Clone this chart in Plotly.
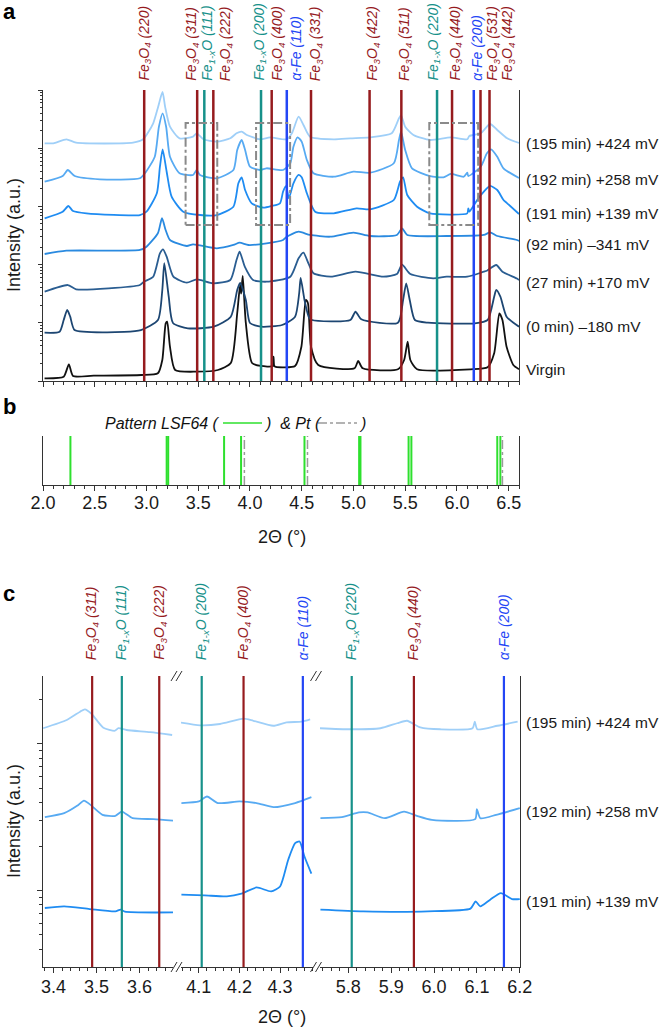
import numpy as np
import plotly.graph_objects as go

W, H = 667, 1033
def px(x): return x / W
def py(y): return 1 - y / H

FONT = "Liberation Sans, Arial, sans-serif"

# ---------------- DATA ----------------
# reference reflections (2-theta, degrees)
fe3o4_pos = [2.978, 3.490, 3.646, 4.210, 4.590, 5.156, 5.463, 5.953, 6.228, 6.315]
fe3o4_hkl = ["(220)", "(311)", "(222)", "(400)", "(331)", "(422)", "(511)", "(440)", "(531)", "(442)"]
feo_pos = [3.559, 4.107, 5.808]
feo_hkl = ["(111)", "(200)", "(220)"]
fe_pos = [4.356, 6.163]
fe_hkl = ["(110)", "(200)"]

# panel b reference patterns
lsf64_pos = [2.265, 3.195, 3.21, 3.75, 3.914, 4.527, 5.055, 5.068, 5.533, 5.56, 6.39, 6.42]
pt_pos = [3.946, 4.556, 6.44]

# panel a curves: 2-theta and log10(intensity, a.u.)
virgin_x = [2.015, 2.20, 2.25, 2.29, 2.49, 2.95, 3.11, 3.153, 3.186, 3.20, 3.227, 3.277, 3.48, 3.69, 3.815,
            3.877, 3.905, 3.915, 3.93, 3.96, 4.02, 4.105, 4.222, 4.228, 4.235, 4.25, 4.436, 4.497, 4.54, 4.56,
            4.59, 4.66, 5.01, 5.046, 5.09, 5.43, 5.49, 5.524, 5.55, 5.615, 6.13, 6.297, 6.36, 6.41, 6.44, 6.48,
            6.545, 6.6]
virgin_l = [0.046, 0.074, 0.287, 0.086, 0.091, 0.103, 0.132, 0.361, 0.991, 1.019, 0.589, 0.189, 0.160, 0.189, 0.309,
            1.168, 1.65, 1.50, 1.804, 0.997, 0.309, 0.258, 0.258, 0.418, 0.258, 0.241, 0.258, 0.589, 1.392, 1.340,
            0.589, 0.275, 0.218, 0.344, 0.218, 0.201, 0.361, 0.675, 0.361, 0.201, 0.201, 0.235, 0.476, 1.163, 1.048, 0.589,
            0.275, 0.201]

m0_x = [2.015, 2.16, 2.20, 2.234, 2.263, 2.305, 2.615, 2.946, 3.111, 3.153, 3.172, 3.215, 3.256, 3.40, 3.65, 3.815,
        3.877, 3.905, 3.96, 4.0, 4.105, 4.31, 4.436, 4.476, 4.49, 4.527, 4.567, 4.60, 4.97, 5.02, 5.076, 5.43, 5.48,
        5.51, 5.544, 5.594, 5.72, 6.173, 6.297, 6.36, 6.38, 6.42, 6.48, 6.6]
m0_l = [0.830, 0.847, 1.048, 1.220, 1.105, 0.876, 0.837, 0.876, 1.048, 1.564, 2.027, 1.448, 0.997, 0.906, 0.933, 1.105,
        1.564, 1.684, 1.392, 0.997, 0.933, 0.962, 1.105, 1.512, 1.770, 1.392, 1.105, 1.048, 1.048, 1.191, 1.060, 1.002, 1.392,
        1.679, 1.392, 1.048, 1.002, 0.991, 1.048, 1.448, 1.564, 1.448, 1.105, 0.933]

m27_x = [2.016, 2.24, 2.32, 2.936, 2.975, 3.065, 3.13, 3.16, 3.195, 3.26, 3.39, 3.485, 3.646, 3.81, 3.87, 3.90,
         3.95, 4.03, 4.16, 4.39, 4.47, 4.517, 4.565, 4.614, 4.78, 5.02, 5.29, 5.42, 5.47, 5.55, 5.77, 5.9, 6.1,
         6.26, 6.29, 6.38, 6.44, 6.58, 6.6]
m27_l = [1.534, 1.649, 1.576, 1.649, 1.706, 1.792, 2.194, 2.263, 2.136, 1.792, 1.689, 1.747, 1.679, 1.735, 2.079, 2.222,
         1.964, 1.735, 1.706, 1.792, 2.108, 2.204, 2.022, 1.851, 1.792, 1.878, 1.792, 1.838, 1.998, 1.838, 1.765, 1.792, 1.792,
         1.878, 1.895, 1.993, 1.878, 1.761, 1.735]

m92_x = [2.016, 2.226, 2.936, 3.0, 3.11, 3.15, 3.185, 3.227, 3.39, 3.45, 3.68, 3.84, 3.90, 3.985, 4.16, 4.32, 4.356,
         4.47, 4.58, 4.775, 5.0, 5.16, 5.42, 5.47, 5.52, 5.9, 6.26, 6.32, 6.39, 6.58, 6.6]
m92_l = [2.182, 2.239, 2.251, 2.308, 2.538, 2.796, 2.595, 2.423, 2.320, 2.349, 2.280, 2.337, 2.376, 2.337, 2.366, 2.423, 2.479,
         2.565, 2.509, 2.479, 2.548, 2.491, 2.509, 2.624, 2.509, 2.491, 2.509, 2.555, 2.491, 2.423, 2.405]

m191_x = [2.016, 2.19, 2.245, 2.29, 2.42, 2.936, 3.0, 3.10, 3.13, 3.156, 3.195, 3.243, 3.355, 3.517, 3.68, 3.84, 3.888,
          3.92, 3.953, 4.017, 4.13, 4.21, 4.29, 4.32, 4.35, 4.376, 4.42, 4.47, 4.50, 4.55, 4.63, 4.81, 5.03, 5.16, 5.39,
          5.45, 5.48, 5.52, 5.615, 5.74, 6.10, 6.11, 6.12, 6.196, 6.26, 6.32, 6.39, 6.45, 6.486, 6.6]
m191_l = [2.796, 2.909, 3.007, 2.921, 2.881, 2.852, 2.909, 3.225, 3.682, 3.981, 3.596, 3.167, 2.909, 2.852, 2.852, 2.995, 3.397,
          3.500, 3.282, 3.053, 2.978, 3.007, 3.053, 3.253, 3.351, 3.139, 3.397, 3.540, 3.500, 3.225, 2.909, 2.881, 2.967, 2.950, 3.110,
          3.424, 3.500, 3.196, 2.995, 2.881, 2.881, 2.967, 2.909, 3.110, 3.253, 3.351, 3.282, 3.110, 3.053, 2.869]

m192_x = [2.016, 2.19, 2.24, 2.307, 2.55, 2.936, 2.985, 3.08, 3.12, 3.156, 3.19, 3.227, 3.32, 3.45, 3.485, 3.517, 3.68,
          3.84, 3.877, 3.92, 3.953, 4.0, 4.098, 4.16, 4.32, 4.39, 4.42, 4.46, 4.50, 4.55, 4.614, 4.81, 5.0, 5.16, 5.39,
          5.44, 5.46, 5.50, 5.566, 5.74, 5.87, 5.94, 6.066, 6.10, 6.11, 6.23, 6.29, 6.33, 6.39, 6.45, 6.6]
m192_l = [3.424, 3.522, 3.625, 3.522, 3.466, 3.483, 3.569, 3.854, 4.369, 4.600, 4.369, 3.854, 3.569, 3.540, 3.625, 3.540, 3.483,
          3.625, 3.969, 4.141, 3.969, 3.682, 3.625, 3.655, 3.625, 3.741, 4.026, 4.187, 4.112, 3.797, 3.569, 3.510, 3.596, 3.579, 3.741,
          4.141, 4.283, 3.969, 3.655, 3.522, 3.500, 3.557, 3.510, 3.579, 3.522, 3.682, 3.912, 3.981, 3.854, 3.655, 3.488]

m195_x = [2.016, 2.10, 2.226, 2.32, 2.87, 2.968, 3.065, 3.113, 3.155, 3.18, 3.227, 3.32, 3.45, 3.485, 3.55, 3.68, 3.81,
          3.87, 3.92, 3.97, 4.098, 4.195, 4.356, 4.405, 4.47, 4.517, 4.58, 4.81, 4.97, 5.16, 5.37, 5.44, 5.46, 5.50,
          5.58, 5.74, 5.94, 6.10, 6.12, 6.23, 6.32, 6.39, 6.486, 6.6]
m195_l = [4.084, 4.084, 4.153, 4.095, 4.095, 4.153, 4.428, 4.713, 4.966, 4.713, 4.369, 4.170, 4.198, 4.256, 4.153, 4.112, 4.170,
          4.256, 4.284, 4.227, 4.153, 4.187, 4.153, 4.256, 4.541, 4.399, 4.198, 4.153, 4.170, 4.187, 4.256, 4.514, 4.570, 4.369,
          4.227, 4.141, 4.187, 4.153, 4.210, 4.256, 4.416, 4.313, 4.170, 4.089]

labels_a = ["Virgin", "(0 min) \u2013180 mV", "(27 min) +170 mV", "(92 min) \u2013341 mV",
            "(191 min) +139 mV", "(192 min) +258 mV", "(195 min) +424 mV"]
label_a_l = [0.19, 0.94, 1.70, 2.34, 2.88, 3.47, 4.08]

# panel c zoomed curves, three 2-theta windows each: (x, log10 I)
c195 = [([3.376, 3.431, 3.462, 3.473, 3.489, 3.516, 3.543, 3.551, 3.57, 3.625, 3.676],
         [1.107, 1.163, 1.22, 1.236, 1.204, 1.111, 1.09, 1.107, 1.095, 1.08, 1.061]),
        ([4.056, 4.103, 4.152, 4.21, 4.234, 4.283, 4.316, 4.353, 4.374],
         [1.145, 1.127, 1.136, 1.172, 1.158, 1.124, 1.147, 1.152, 1.168]),
        ([5.734, 5.804, 5.875, 5.914, 5.937, 5.968, 6.015, 6.09, 6.095, 6.101, 6.148, 6.195],
         [1.107, 1.10, 1.107, 1.141, 1.158, 1.113, 1.10, 1.107, 1.152, 1.10, 1.124, 1.152])]
c192 = [([3.380, 3.425, 3.455, 3.471, 3.484, 3.514, 3.544, 3.559, 3.584, 3.633, 3.678],
         [0.501, 0.528, 0.578, 0.614, 0.59, 0.517, 0.51, 0.539, 0.494, 0.488, 0.478]),
        ([4.057, 4.10, 4.12, 4.147, 4.20, 4.242, 4.284, 4.337, 4.377],
         [0.597, 0.608, 0.642, 0.597, 0.608, 0.597, 0.569, 0.597, 0.637]),
        ([5.735, 5.785, 5.825, 5.845, 5.885, 5.93, 5.96, 5.995, 6.096, 6.10, 6.108, 6.145, 6.20],
         [0.494, 0.501, 0.533, 0.533, 0.494, 0.539, 0.51, 0.483, 0.488, 0.556, 0.494, 0.517, 0.563])]
c191 = [([3.38, 3.425, 3.484, 3.544, 3.556, 3.566, 3.678],
         [-0.118, -0.107, -0.125, -0.141, -0.129, -0.143, -0.148]),
        ([4.057, 4.114, 4.169, 4.205, 4.242, 4.278, 4.30, 4.32, 4.337, 4.348, 4.36, 4.377],
         [-0.027, -0.032, -0.039, -0.02, 0.022, -0.005, 0.029, 0.211, 0.324, 0.335, 0.233, 0.116]),
        ([5.735, 5.835, 5.985, 6.085, 6.097, 6.108, 6.131, 6.156, 6.182, 6.20],
         [-0.129, -0.141, -0.141, -0.122, -0.073, -0.107, -0.061, -0.016, -0.057, -0.057])]
labels_c = ["(191 min) +139 mV", "(192 min) +258 mV", "(195 min) +424 mV"]
label_c_l = [-0.073, 0.539, 1.143]

# ---------------- STYLE ----------------
C_FE3O4 = "#961b1e"
C_FEO = "#17918a"
C_FE = "#2346f5"
curve_cols = ["#111111", "#1d4672", "#2a5d91", "#2a8ae0", "#1f8cf2", "#57aaf2", "#9fcff8"]
AX = "#333333"
TXT = "#1a1a1a"

fig = go.Figure()

# panel a curves
curves_a = [(virgin_x, virgin_l), (m0_x, m0_l), (m27_x, m27_l), (m92_x, m92_l),
            (m191_x, m191_l), (m192_x, m192_l), (m195_x, m195_l)]
for (xs, ls), col in zip(curves_a, curve_cols):
    fig.add_trace(go.Scatter(x=xs, y=ls, mode="lines", xaxis="x", yaxis="y",
                             line=dict(color=col, width=1.8, shape="spline", smoothing=0.6),
                             showlegend=False, hoverinfo="skip"))

# panel c curves
c_cols = [curve_cols[4], curve_cols[5], curve_cols[6]]
seg_axes = [("x5", "y3"), ("x6", "y4"), ("x7", "y5")]
for data, col in zip([c191, c192, c195], c_cols):
    for (xs, ls), (xa, ya) in zip(data, seg_axes):
        fig.add_trace(go.Scatter(x=xs, y=ls, mode="lines", xaxis=xa, yaxis=ya,
                                 line=dict(color=col, width=1.8, shape="spline", smoothing=0.6),
                                 showlegend=False, hoverinfo="skip"))

shapes = []
annotations = []

refs = ([(p, h, "fe3o4") for p, h in zip(fe3o4_pos, fe3o4_hkl)] +
        [(p, h, "feo") for p, h in zip(feo_pos, feo_hkl)] +
        [(p, h, "fe") for p, h in zip(fe_pos, fe_hkl)])
refs.sort(key=lambda r: r[0])
col_of = {"fe3o4": C_FE3O4, "feo": C_FEO, "fe": C_FE}
def lab(ph, hkl):
    if ph == "fe3o4":
        return f"<i>Fe<sub>3</sub>O<sub>4</sub> {hkl}</i>"
    if ph == "feo":
        return f"<i>Fe<sub>1-x</sub>O {hkl}</i>"
    return f"<i>\u03b1-Fe {hkl}</i>"

label_px_a = [145, 191.7, 208.3, 226.7, 260, 278.3, 296, 316.7, 373.3, 405, 434, 456, 476.7, 493.3, 508.3]
for (p, hkl, ph), lx in zip(refs, label_px_a):
    shapes.append(dict(type="line", xref="x", yref="y domain", x0=p, x1=p, y0=0, y1=1,
                       line=dict(color=col_of[ph], width=2.5), layer="above"))
    annotations.append(dict(text=lab(ph, hkl), xref="paper", yref="paper", x=px(lx), y=py(82),
                            xanchor="center", yanchor="bottom", textangle=-90, showarrow=False, borderpad=0,
                            font=dict(family=FONT, size=14, color=col_of[ph])))

# gray dash-dot boxes in panel a
for x0, x1 in [(3.378, 3.684), (4.059, 4.388), (5.733, 6.205)]:
    shapes.append(dict(type="rect", xref="x", yref="y", x0=x0, x1=x1, y0=2.68, y1=4.433,
                       line=dict(color="#8a8a8a", width=2, dash="dashdot"), layer="above"))

for t, l in zip(labels_a, label_a_l):
    annotations.append(dict(text=t, xref="paper", yref="y", x=px(524), y=l, xanchor="left",
                            yanchor="middle", showarrow=False, font=dict(family=FONT, size=15.5, color=TXT)))

# panel b
for p in lsf64_pos:
    shapes.append(dict(type="line", xref="x3", yref="y2 domain", x0=p, x1=p, y0=0, y1=1,
                       line=dict(color="#2ee02e", width=2)))
for p in pt_pos:
    shapes.append(dict(type="line", xref="x3", yref="y2 domain", x0=p, x1=p, y0=0, y1=1,
                       line=dict(color="#9a9a9a", width=1.5, dash="dashdot")))
LEG_Y = 423
annotations.append(dict(text="<i>Pattern LSF64 (</i>", xref="paper", yref="paper", x=px(222), y=py(LEG_Y),
                        xanchor="right", yanchor="middle", showarrow=False, font=dict(family=FONT, size=16, color="#111")))
annotations.append(dict(text="<i>)  & Pt (</i>", xref="paper", yref="paper", x=px(262), y=py(LEG_Y),
                        xanchor="left", yanchor="middle", showarrow=False, font=dict(family=FONT, size=16, color="#111")))
annotations.append(dict(text="<i>)</i>", xref="paper", yref="paper", x=px(357), y=py(LEG_Y),
                        xanchor="left", yanchor="middle", showarrow=False, font=dict(family=FONT, size=16, color="#111")))
shapes.append(dict(type="line", xref="paper", yref="paper", x0=px(223), x1=px(262), y0=py(LEG_Y), y1=py(LEG_Y),
                   line=dict(color="#2ee02e", width=1.5)))
shapes.append(dict(type="line", xref="paper", yref="paper", x0=px(318), x1=px(357), y0=py(LEG_Y), y1=py(LEG_Y),
                   line=dict(color="#9a9a9a", width=1.5, dash="dashdot")))

# panel c reference lines and labels
seg_ranges = [(3.375, 3.678), (4.056, 4.381), (5.734, 6.2005)]
for p, hkl, ph in refs:
    for (xa, ya), (r0, r1) in zip(seg_axes, seg_ranges):
        if r0 < p < r1:
            shapes.append(dict(type="line", xref=xa, yref=f"{ya} domain", x0=p, x1=p, y0=0, y1=1,
                               line=dict(color=col_of[ph], width=2.2), layer="above"))
            annotations.append(dict(text=lab(ph, hkl), xref=xa, yref="paper", x=p, y=py(661),
                                    xanchor="center", yanchor="bottom", textangle=-90, showarrow=False,
                                    borderpad=0, font=dict(family=FONT, size=14, color=col_of[ph])))
for t, l in zip(labels_c, label_c_l):
    annotations.append(dict(text=t, xref="paper", yref="y5", x=px(524), y=l, xanchor="left",
                            yanchor="middle", showarrow=False, font=dict(family=FONT, size=15.5, color=TXT)))

# axis break marks
for cx in [177, 316.5]:
    for yy in [676, 967]:
        for dx in [-3, 2]:
            shapes.append(dict(type="line", xref="paper", yref="paper",
                               x0=px(cx + dx - 3), y0=py(yy + 5), x1=px(cx + dx + 3), y1=py(yy - 5),
                               line=dict(color=AX, width=1)))

# panel letters and titles
for t, (x, y) in zip(["a", "b", "c"], [(2, 12), (2, 407), (2, 593)]):
    annotations.append(dict(text=f"<b>{t}</b>", xref="paper", yref="paper", x=px(x), y=py(y),
                            xanchor="left", yanchor="middle", showarrow=False, borderpad=0,
                            font=dict(family=FONT, size=22, color="#000")))
for yc in [235, 821]:
    annotations.append(dict(text="Intensity (a.u.)", xref="paper", yref="paper", x=px(14), y=py(yc),
                            xanchor="center", yanchor="middle", textangle=-90, showarrow=False,
                            font=dict(family=FONT, size=18, color=TXT)))
for yc in [537, 1017]:
    annotations.append(dict(text="2\u0398 (\u00b0)", xref="paper", yref="paper", x=px(282), y=py(yc),
                            xanchor="center", yanchor="middle", showarrow=False, borderpad=0,
                            font=dict(family=FONT, size=18, color=TXT)))

# ---------------- AXES ----------------
ax_x = [px(43), px(519)]
dom_a = [py(381), py(90)]
dom_b = [py(485), py(436)]
dom_c = [py(967), py(676)]
seg_dom = [[px(42.7), px(173)], [px(181), px(313)], [px(320), px(520)]]

base = dict(showgrid=False, zeroline=False, showline=True, linecolor=AX, linewidth=1, tickcolor=AX,
            automargin=False, tickfont=dict(family=FONT, size=18, color=TXT))

def xbottom(domain, anchor, rng, dtick, minor_dt, labels, standoff=0):
    d = dict(base, domain=domain, anchor=anchor, range=list(rng), autorange=False, ticks="outside",
             ticklen=5, tick0=0, dtick=dtick, showticklabels=labels, tickformat=".1f",
             ticklabelstandoff=standoff,
             minor=dict(ticks="outside", ticklen=3, dtick=minor_dt, tick0=0, tickcolor=AX))
    return d

def xtop(over, anchor, domain, rng, dtick, minor_dt):
    return dict(base, overlaying=over, side="top", anchor=anchor, domain=domain, range=list(rng),
                autorange=False, ticks="inside", ticklen=5, tick0=0, dtick=dtick, showticklabels=False,
                minor=dict(ticks="inside", ticklen=3, dtick=minor_dt, tick0=0, tickcolor=AX))

def log_minor(lo, hi):
    return [n + np.log10(k) for n in range(-2, 7) for k in range(2, 10) if lo < n + np.log10(k) < hi]

layout = dict(
    width=W, height=H, margin=dict(l=0, r=0, t=0, b=0, pad=0), autosize=False,
    paper_bgcolor="white", plot_bgcolor="white", showlegend=False,
    xaxis=xbottom(ax_x, "y", (2.0, 6.6), 0.5, 0.1, False),
    xaxis2=xtop("x", "y", ax_x, (2.0, 6.6), 0.5, 0.1),
    yaxis=dict(base, domain=dom_a, anchor="x", range=[0, 5], autorange=False, mirror=True,
               tickvals=[0, 1, 2, 3, 4, 5], ticks="outside", ticklen=4, showticklabels=False,
               minor=dict(tickvals=log_minor(0, 5), ticks="outside", ticklen=2, tickcolor=AX)),
    xaxis3=xbottom(ax_x, "y2", (2.0, 6.6), 0.5, 0.1, True, -4),
    xaxis4=xtop("x3", "y2", ax_x, (2.0, 6.6), 0.5, 0.1),
    yaxis2=dict(base, domain=dom_b, anchor="x3", range=[0, 1], mirror=True, ticks="", showticklabels=False),
    xaxis5=xbottom(seg_dom[0], "y3", seg_ranges[0], 0.1, 0.02, True, -2),
    xaxis6=xbottom(seg_dom[1], "y4", seg_ranges[1], 0.1, 0.02, True, -2),
    xaxis7=xbottom(seg_dom[2], "y5", seg_ranges[2], 0.1, 0.02, True, -2),
    xaxis8=xtop("x5", "y3", seg_dom[0], seg_ranges[0], 0.1, 0.02),
    xaxis9=xtop("x6", "y4", seg_dom[1], seg_ranges[1], 0.1, 0.02),
    xaxis10=xtop("x7", "y5", seg_dom[2], seg_ranges[2], 0.1, 0.02),
    yaxis3=dict(base, domain=dom_c, anchor="x5", range=[-0.52, 1.463], autorange=False,
                tickvals=[0, 1], ticks="outside", ticklen=5, showticklabels=False,
                minor=dict(tickvals=log_minor(-0.52, 1.463), ticks="outside", ticklen=3, tickcolor=AX)),
    yaxis4=dict(domain=dom_c, anchor="x6", range=[-0.52, 1.463], autorange=False, visible=False, automargin=False),
    yaxis5=dict(base, domain=dom_c, anchor="x7", side="right", range=[-0.52, 1.463], autorange=False,
                ticks="", showticklabels=False),
    shapes=shapes, annotations=annotations,
)
fig.update_layout(**layout)
fig.write_html("out.html", config={"displayModeBar": False},
               post_script="document.body.style.margin='0';document.body.style.padding='0';")
